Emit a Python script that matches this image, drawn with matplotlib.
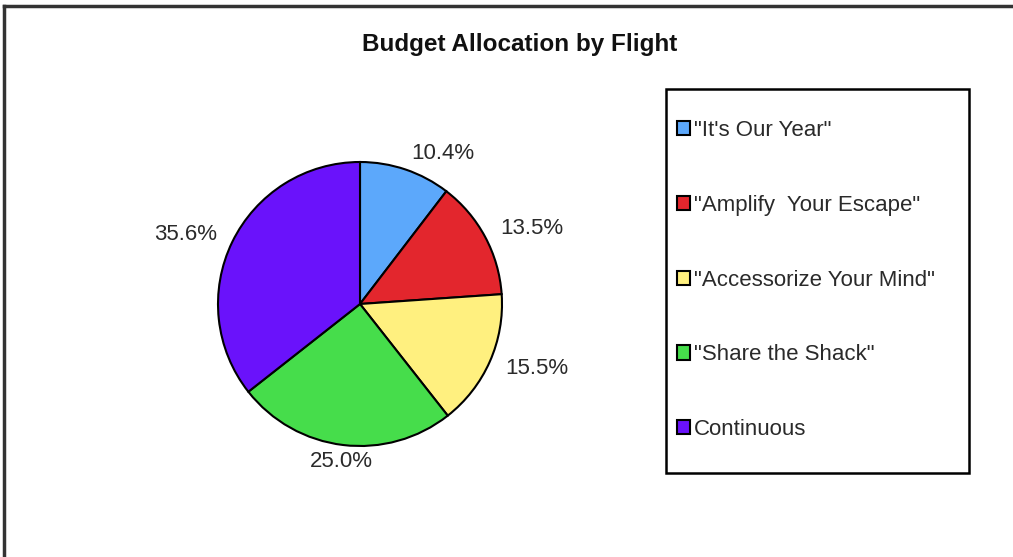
import matplotlib
matplotlib.use('Agg')
import matplotlib.pyplot as plt
from matplotlib.lines import Line2D
from matplotlib.patches import Rectangle

plt.rcParams['font.family'] = ['Liberation Sans', 'DejaVu Sans']

# data
flights = ['"It\'s Our Year"', '"Amplify  Your Escape"', '"Accessorize Your Mind"',
           '"Share the Shack"', 'Continuous']
shares  = [10.4, 13.5, 15.5, 25.0, 35.6]
colors  = ['#5ca8fb', '#e3262d', '#fff07f', '#46dd4b', '#6a12fb']

W, H = 1013, 557
fig = plt.figure(figsize=(W/100, H/100), dpi=100)

# pie axes: centre ~ (360, 304) px, radius ~142 px
cx, cy, r = 360, 304, 142
ax = fig.add_axes([(cx - r)/W, (H - cy - r)/H, 2*r/W, 2*r/H])
labels = ['%.1f%%' % s for s in shares]
wedges, texts = ax.pie(shares, colors=colors, startangle=90, counterclock=False,
                       labels=labels, labeldistance=1.12,
                       wedgeprops=dict(edgecolor='black', linewidth=1.5),
                       textprops=dict(fontsize=16, color='#2a2a2a'))
# the bottom label sits nearly centred under its slice
texts[3].set_ha('center')
ax.set_xlim(-1, 1)
ax.set_ylim(-1, 1)
ax.set_aspect('equal')

fig.text(520/W, 1 - 44/H, 'Budget Allocation by Flight', ha='center', va='center',
         fontsize=17.5, fontweight='bold', color='#111111')

# legend box drawn separately, entries placed inside
fig.add_artist(Rectangle((666/W, 1 - 473/H), (969-666)/W, (473-89)/H,
                         transform=fig.transFigure, facecolor='none',
                         edgecolor='black', linewidth=1.8))
leg = fig.legend(wedges, flights, loc='upper left',
                 bbox_to_anchor=(677/W, 1 - 120/H), borderaxespad=0, borderpad=0,
                 frameon=False, fontsize=16, labelspacing=2.42,
                 handlelength=0.6, handleheight=0.6, handletextpad=0.15)
for t in leg.get_texts():
    t.set_color('#2a2a2a')

# outer border (top and left only)
fig.add_artist(Line2D([4/W, 1], [1 - 6/H, 1 - 6/H], color='#333333', linewidth=2.5))
fig.add_artist(Line2D([4/W, 4/W], [0, 1 - 6/H], color='#333333', linewidth=2.5))

fig.savefig('out.png', dpi=100, facecolor='white')
